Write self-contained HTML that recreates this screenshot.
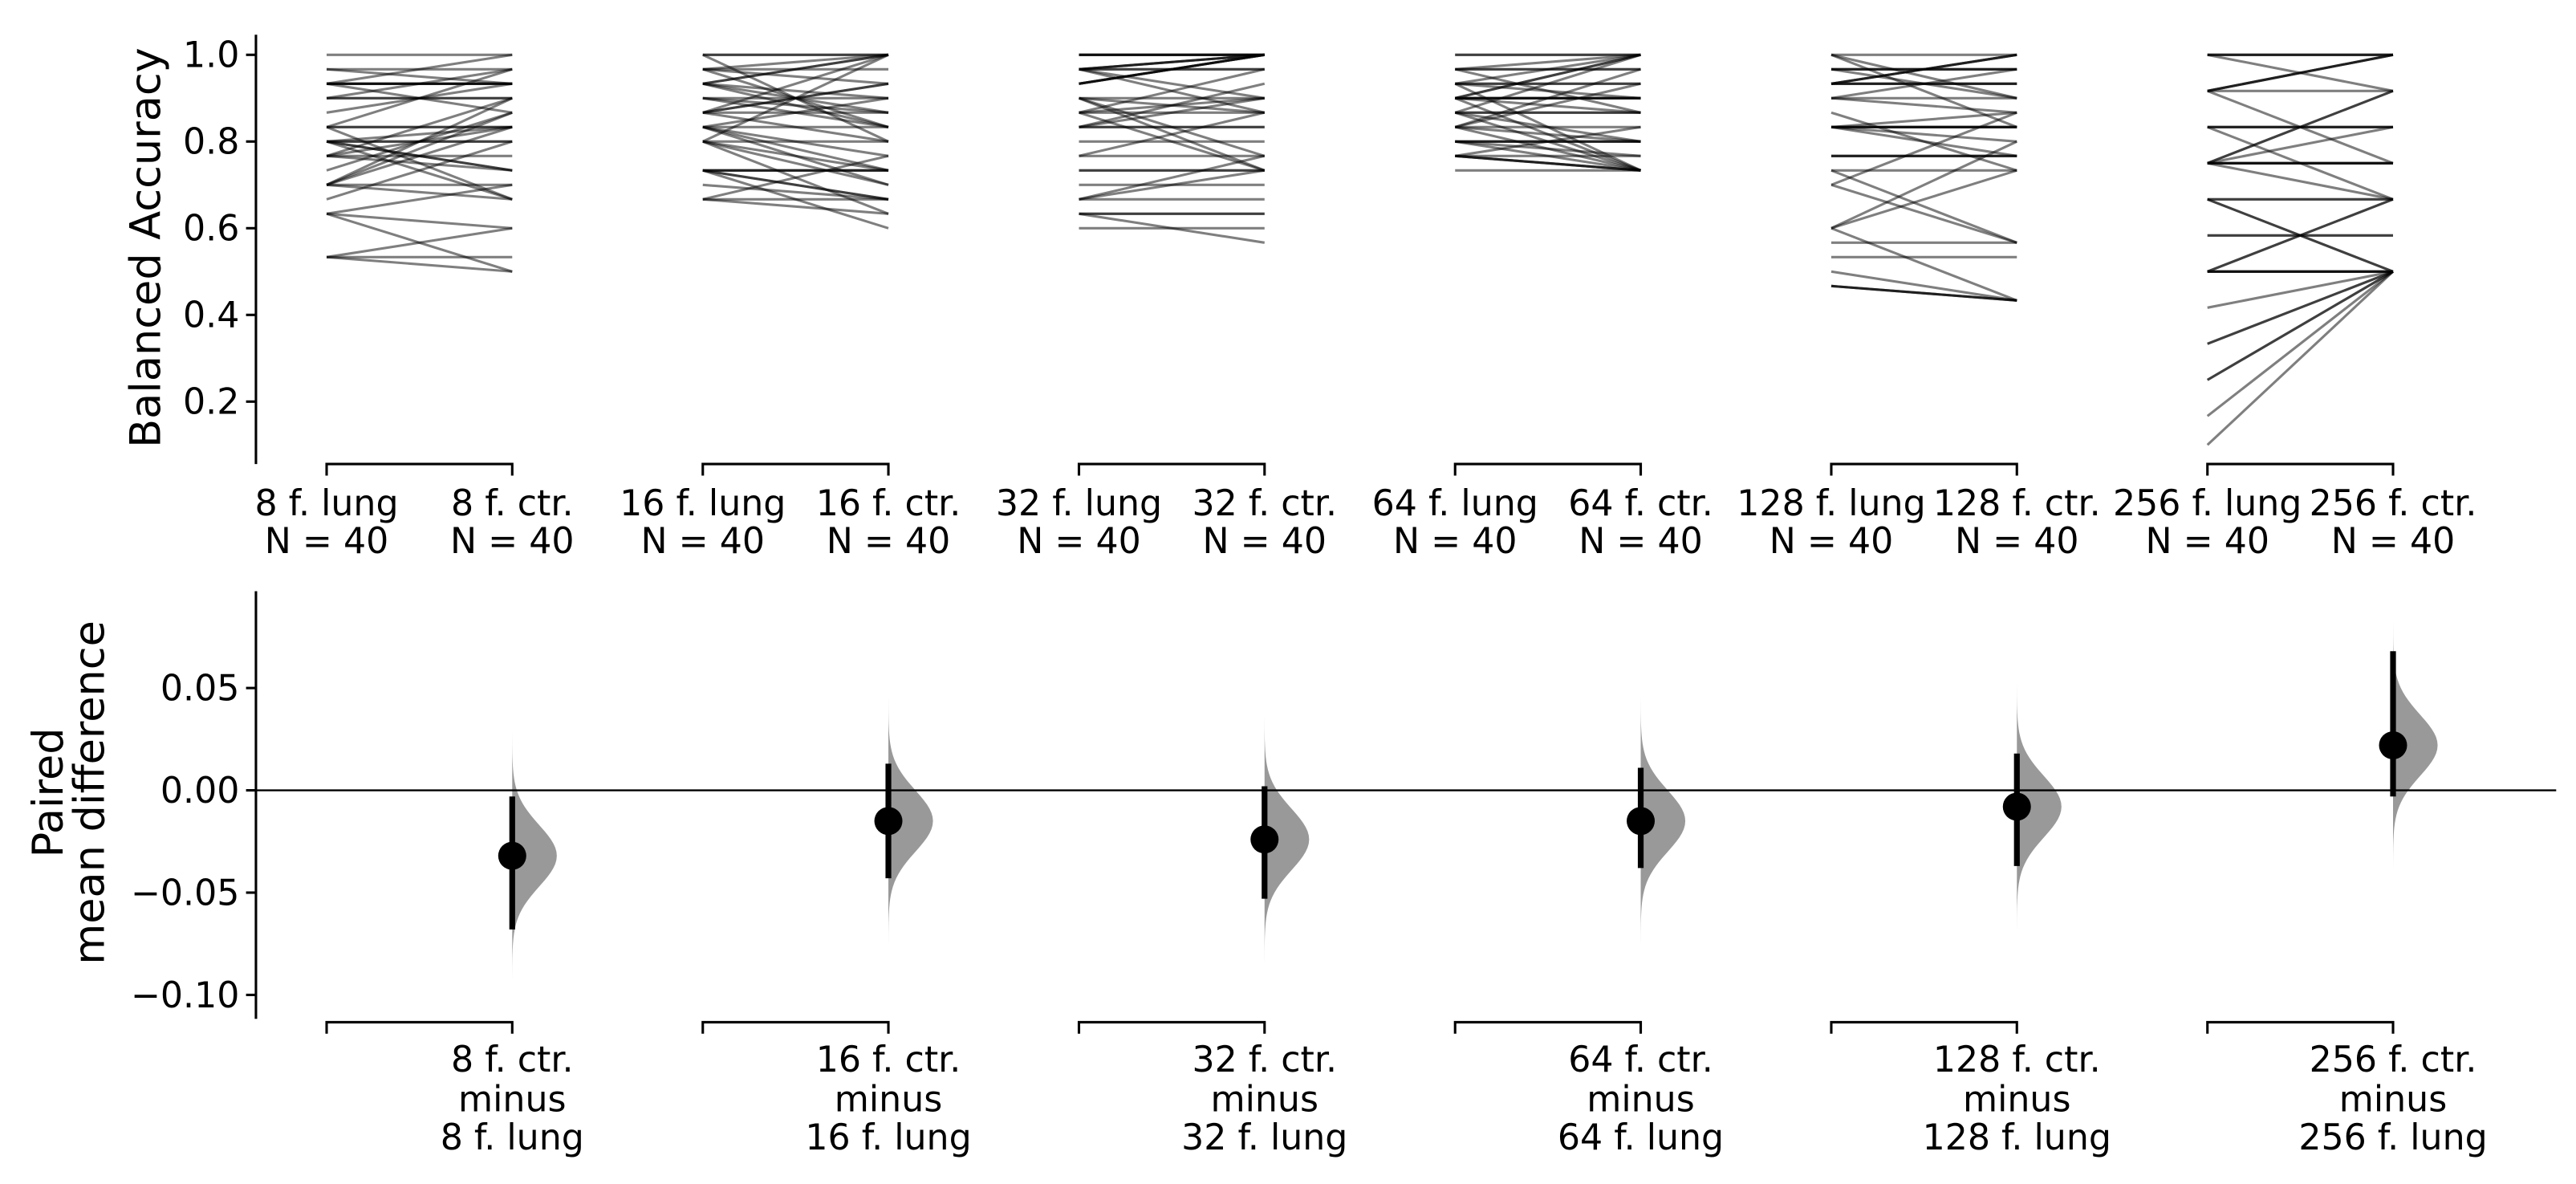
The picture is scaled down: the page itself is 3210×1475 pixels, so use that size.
<!DOCTYPE html>
<html><head><meta charset="utf-8"><style>
html,body{margin:0;padding:0;background:#fff;}
svg{display:block;}
text{font-family:"DejaVu Sans","Liberation Sans",sans-serif;fill:#000;}
</style></head><body>
<svg id="s" xmlns="http://www.w3.org/2000/svg" width="3210" height="1475" viewBox="0 0 1560 717" preserveAspectRatio="none">
<g id="lines" stroke="#000" stroke-opacity="0.5" stroke-width="1.5" fill="none"></g>
<g id="viol" fill="#999"></g>
<g stroke="#000" stroke-width="1.5" fill="none">
<line x1="155" y1="21" x2="155" y2="281"/>
<line x1="155" y1="358" x2="155" y2="617"/>
<line x1="155" y1="478.6" x2="1548" y2="478.6" stroke-width="1.2"/>
</g>
<g id="axes" stroke="#000" stroke-width="1.5" fill="none"></g>
<g id="txt" font-size="21.5"></g>
<text x="0" y="0" font-size="25.5" text-anchor="middle" transform="translate(97,150) rotate(-90)">Balanced Accuracy</text>
<text x="0" y="0" font-size="25.5" text-anchor="middle" transform="translate(38,480) rotate(-90)">Paired</text>
<text x="0" y="0" font-size="25.5" text-anchor="middle" transform="translate(63,480) rotate(-90)">mean difference</text>
</svg>
<script>
var NS="http://www.w3.org/2000/svg";
function el(p,t,a,tx){var e=document.createElementNS(NS,t);for(var k in a)e.setAttribute(k,a[k]);if(tx!==undefined)e.textContent=tx;document.getElementById(p).appendChild(e);return e;}
function yt(v){return 33.2+(1-v)*262.5;}
function yb(d){return 478.6-d*1239;}
var seed=12345;function rnd(){seed=(seed*1103515245+12345)%2147483648;return seed/2147483648;}
[1.0,0.8,0.6,0.4,0.2].forEach(function(v){el("axes","line",{x1:149,x2:155,y1:yt(v),y2:yt(v)});el("txt","text",{x:145,y:yt(v)+7.5,"text-anchor":"end"},v.toFixed(1));});
[0.05,0.00,-0.05,-0.10].forEach(function(v){el("axes","line",{x1:149,x2:155,y1:yb(v),y2:yb(v)});el("txt","text",{x:145,y:yb(v)+7.5,"text-anchor":"end"},(v<0?"\u2212":"")+Math.abs(v).toFixed(2));});
var names=["8","16","32","64","128","256"];
var lo=[[0.5,0.5],[0.66,0.61],[0.6,0.55],[0.73,0.72],[0.45,0.45],[0.1,0.5]];
var mean=[-0.032,-0.015,-0.024,-0.015,-0.008,0.022];
var ci=[[-0.068,-0.003],[-0.043,0.013],[-0.053,0.002],[-0.038,0.011],[-0.037,0.018],[-0.003,0.068]];
for(var g=0;g<6;g++){
 var xl=197.8+227.8*g, xc=xl+112.4;
 el("axes","path",{d:"M"+xl+" 288 V281 H"+xc+" V288"});
 el("axes","path",{d:"M"+xl+" 626 V619 H"+xc+" V626"});
 var n=names[g];
 el("txt","text",{x:xl,y:312,"text-anchor":"middle"},n+" f. lung");
 el("txt","text",{x:xl,y:335,"text-anchor":"middle"},"N = 40");
 el("txt","text",{x:xc,y:312,"text-anchor":"middle"},n+" f. ctr.");
 el("txt","text",{x:xc,y:335,"text-anchor":"middle"},"N = 40");
 el("txt","text",{x:xc,y:649,"text-anchor":"middle"},n+" f. ctr.");
 el("txt","text",{x:xc,y:673,"text-anchor":"middle"},"minus");
 el("txt","text",{x:xc,y:696,"text-anchor":"middle"},n+" f. lung");
 var q=(g==5)?12:30;
 for(var i=0;i<40;i++){
  var a=lo[g][0]+(1-lo[g][0])*Math.pow(rnd(),0.7);
  if(g==5&&i==0)a=0.1;
  a=1-Math.round((1-a)*q)/q;
  var b=(rnd()<0.3)?a:a+(rnd()-0.5)*0.4;
  b=Math.max(lo[g][1],Math.min(1,b));
  b=1-Math.round((1-b)*q)/q;
  if(a<lo[g][0])a=lo[g][0];
  el("lines","line",{x1:xl,y1:yt(a),x2:xc,y2:yt(b)});
 }
 var m=mean[g],sd=0.015,pts=[];
 for(var k=0;k<=60;k++){var d=m-0.06+0.12*k/60;pts.push((xc+27*Math.exp(-(d-m)*(d-m)/(2*sd*sd))).toFixed(2)+","+yb(d).toFixed(2));}
 el("viol","path",{d:"M"+xc+","+yb(m-0.06)+" L"+pts.join(" L")+" L"+xc+","+yb(m+0.06)+" Z"});
 el("viol","line",{x1:xc,x2:xc,y1:yb(ci[g][0]),y2:yb(ci[g][1]),stroke:"#000","stroke-width":3.5});
 el("viol","circle",{cx:xc,cy:yb(m),r:8.5,fill:"#000"});
}
</script>
</body></html>
